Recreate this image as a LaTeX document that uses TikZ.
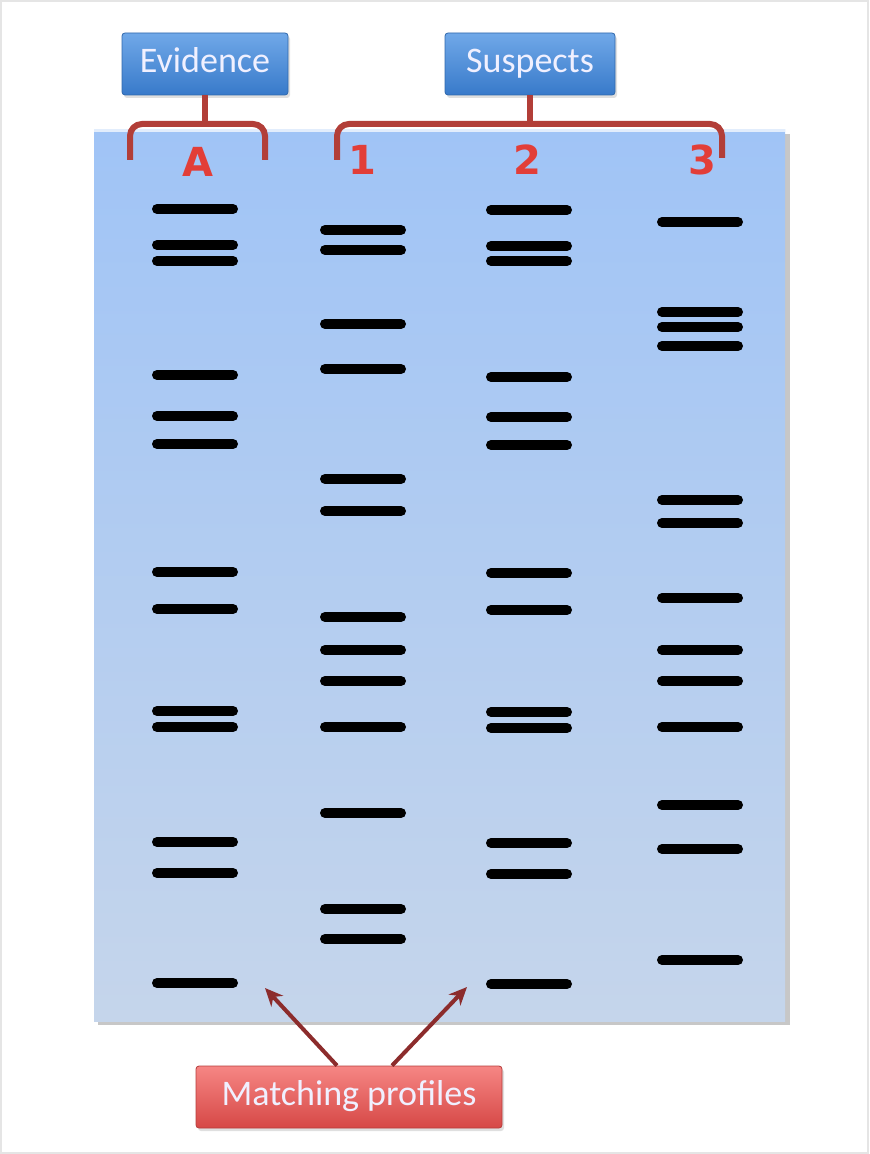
\documentclass[tikz,border=0pt]{standalone}
\usepackage{fontspec}
\newfontfamily\boxfont{Carlito}
\newfontfamily\lanefont{DejaVu Sans}
\usetikzlibrary{positioning, calc, arrows.meta, shadows}

\definecolor{gelTop}{RGB}{160,196,246}
\definecolor{gelBottom}{RGB}{197,213,235}
\definecolor{tagTop}{RGB}{112,168,232}
\definecolor{tagBottom}{RGB}{56,122,202}
\definecolor{hitTop}{RGB}{246,134,132}
\definecolor{hitBottom}{RGB}{214,72,70}
\definecolor{braceRed}{RGB}{178,62,56}
\definecolor{arrowRed}{RGB}{140,44,44}
\definecolor{laneRed}{RGB}{226,62,56}

\tikzset{
  tag/.style={rectangle, rounded corners=1.5pt, minimum height=31pt,
    text height=12pt, text depth=3.5pt,
    top color=tagTop, bottom color=tagBottom, draw=tagBottom!85!black,
    font=\boxfont\fontsize{18}{20}\selectfont, text=white!94!blue,
    drop shadow={opacity=0.25, shadow xshift=1pt, shadow yshift=-1.5pt}},
  hittag/.style={tag, top color=hitTop, bottom color=hitBottom,
    draw=hitBottom!85!black},
  lanelabel/.style={font=\lanefont\bfseries\fontsize{20}{22}\selectfont,
    text=laneRed},
  band/.style={line width=5pt, line cap=round},
  brace/.style={braceRed, line width=3pt, rounded corners=6pt},
  pointer/.style={arrowRed, line width=2pt, -{Stealth[length=9pt, width=8pt]}}
}

\begin{document}
\begin{tikzpicture}[x=0.5pt, y=-0.5pt]
    \useasboundingbox (0,0) rectangle (869,1154);
    \draw[black!10, line width=1pt] (1,1) rectangle (868,1153);

    % gel
    \fill[black!22] (98,134) rectangle (790,1025);
    \shade[top color=gelTop, bottom color=gelBottom] (94,130) rectangle (785,1021);
    \draw[white!70!gelTop, line width=1.5pt] (94,131) -- (785,131);

    % labels
    \node[tag, minimum width=83pt] (evid) at (205,64) {Evidence};
    \node[tag, minimum width=85pt] (susp) at (530,64) {Suspects};
    \node[hittag, minimum width=153pt] (match) at (349,1097) {Matching profiles};

    \draw[brace] (130,160) -- (130,124) -- (265,124) -- (265,160);
    \draw[braceRed, line width=3pt] (evid.south) -- (evid.south |- 0,124);
    \draw[brace] (337,160) -- (337,124) -- (722,124) -- (722,158);
    \draw[braceRed, line width=3pt] (susp.south) -- (susp.south |- 0,124);

    \node[lanelabel] (laneA) at (198,162) {A};
    \node[lanelabel] (lane1) at (362,160) {1};
    \node[lanelabel] (lane2) at (527,160) {2};
    \node[lanelabel] (lane3) at (702,160) {3};

    % bands
    \foreach \x/\ys in {195/{209,245,261,375,416,444,572,609,711,727,842,873,983},
                        363/{230,250,324,369,479,511,617,650,681,727,813,909,939},
                        529/{210,246,261,377,417,445,573,610,712,728,843,874,984},
                        700/{222,312,327,346,500,523,598,650,681,727,805,849,960}}
        \foreach \y in \ys
            \draw[band] (\x-38,\y) -- (\x+38,\y);

    \coordinate (hitA) at (265,988);
    \coordinate (hit2) at (467,987);
    \draw[pointer] ($(match.north)+(-12,0)$) -- (hitA);
    \draw[pointer] ($(match.north)+(43,0)$) -- (hit2);
\end{tikzpicture}
\end{document}
